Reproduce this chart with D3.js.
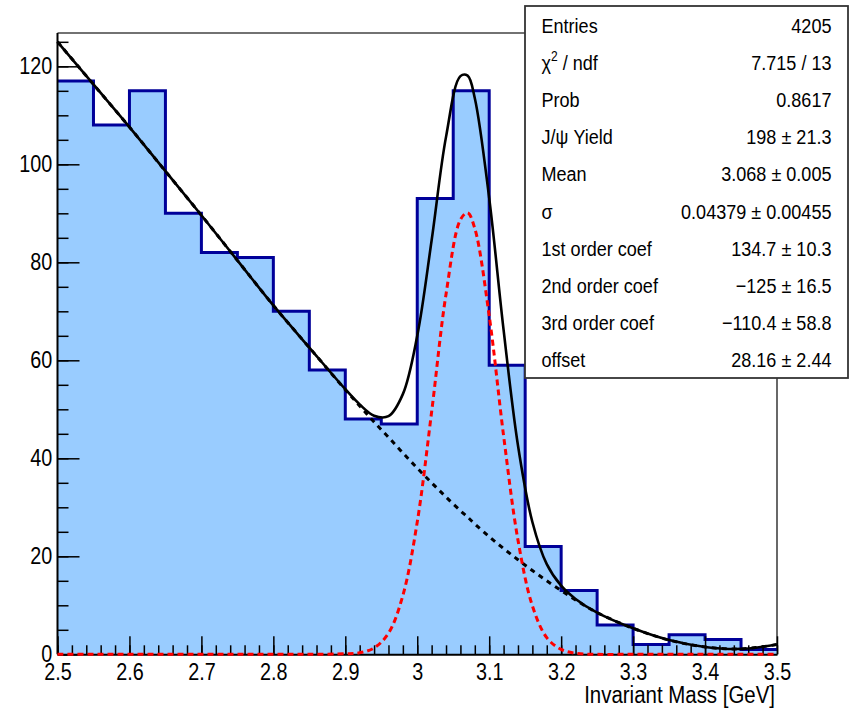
<!DOCTYPE html>
<html>
<head>
<meta charset="utf-8">
<script src="https://cdn.jsdelivr.net/npm/d3@7"></script>
<style>
  body { margin: 0; background: #fff; }
  svg { display: block; }
  text { font-family: "Liberation Sans", Arial, Helvetica, sans-serif; fill: #000; }
</style>
</head>
<body>
<div id="chart"></div>
<script>
// histogram bins (lower edges, width 0.05 GeV) and counts
const binLow = [2.50, 2.55, 2.60, 2.65, 2.70, 2.75, 2.80, 2.85, 2.90, 2.95,
                3.00, 3.05, 3.10, 3.15, 3.20, 3.25, 3.30, 3.35, 3.40, 3.45];
const counts = [117, 108, 115, 90, 82, 81, 70, 58, 48, 47,
                93, 115, 59, 22, 13, 6, 2, 4, 3, 1];
const binWidth = 0.05;

// fit curves: background (black dashed) and J/psi signal (red dashed)
const fitX   = [2.50, 2.55, 2.60, 2.65, 2.70, 2.75, 2.80, 2.85, 2.90, 2.92, 2.94, 2.96, 2.98,
                3.00, 3.02, 3.04, 3.06, 3.07, 3.08, 3.10, 3.12, 3.14, 3.16, 3.18, 3.20, 3.22,
                3.25, 3.30, 3.35, 3.40, 3.45, 3.50];
const bgFit  = [125.0, 116.3, 107.6, 98.6, 89.6, 80.4, 71.2, 62.6, 54.0, 50.7, 47.4, 44.3, 41.1,
                38.0, 35.0, 32.1, 29.3, 28.0, 26.6, 24.0, 21.6, 19.3, 17.1, 15.0, 13.0, 11.1,
                8.5, 5.3, 2.9, 1.5, 1.1, 2.0];
const sigFit = [0, 0, 0, 0, 0, 0, 0, 0, 0.1, 0.3, 1.3, 4.3, 12.0,
                27.0, 49.5, 73.5, 88.7, 90.1, 86.9, 69.1, 44.6, 23.3, 9.9, 3.4, 1.0, 0.2,
                0, 0, 0, 0, 0, 0];

// axis ticks
const xMajor = [2.5, 2.6, 2.7, 2.8, 2.9, 3.0, 3.1, 3.2, 3.3, 3.4, 3.5];
const yMajor = [0, 20, 40, 60, 80, 100, 120];

// stat box
const statLabels = ["Entries", "χ2 / ndf", "Prob", "J/ψ Yield", "Mean", "σ",
                    "1st order coef", "2nd order coef", "3rd order coef", "offset"];
const statValues = ["4205", "7.715 / 13", "0.8617", "198 ± 21.3", "3.068 ± 0.005",
                    "0.04379 ± 0.00455", "134.7 ± 10.3", "−125 ± 16.5", "−110.4 ± 58.8", "28.16 ± 2.44"];

const width = 854, height = 708;
const frame = { left: 57.5, right: 777, top: 33, bottom: 654.3 };
const squeeze = 0.86; // text in the picture is horizontally condensed

const svg = d3.select("#chart").append("svg")
  .attr("width", width).attr("height", height);

const x = d3.scaleLinear().domain([2.5, 3.5]).range([frame.left, frame.right]);
const y = d3.scaleLinear().domain([0, 126.8]).range([frame.bottom, frame.top]);

// frame (top and right)
svg.append("path")
  .attr("d", `M${frame.left},${frame.top}H${frame.right}V${frame.bottom}`)
  .attr("fill", "none").attr("stroke", "#444").attr("stroke-width", 1.6);

// histogram
const histPts = binLow.map((b, i) => ({ x: b, v: counts[i] }));
histPts.push({ x: binLow[binLow.length - 1] + binWidth, v: counts[counts.length - 1] });

svg.append("path")
  .datum(histPts)
  .attr("fill", "#99ccff")
  .attr("d", d3.area().curve(d3.curveStepAfter)
    .x(d => x(d.x)).y0(y(0)).y1(d => y(d.v)));

svg.append("path")
  .datum(histPts)
  .attr("fill", "none")
  .attr("stroke", "#000099")
  .attr("stroke-width", 3)
  .attr("d", d3.line().curve(d3.curveStepAfter).x(d => x(d.x)).y(d => y(d.v)));

// axes
const fmt = d => String(+d.toFixed(2));

const xMinor = d3.range(0, 51).map(i => 2.5 + i * 0.02);
svg.append("g")
  .attr("transform", `translate(0,${frame.bottom})`)
  .call(d3.axisBottom(x).tickValues(xMinor).tickSize(-9).tickFormat(""))
  .call(g => g.select(".domain").remove());

const yMinor = d3.range(0, 26).map(i => i * 5);
svg.append("g")
  .attr("transform", `translate(${frame.left},0)`)
  .call(d3.axisLeft(y).tickValues(yMinor).tickSize(-11).tickFormat(""))
  .call(g => g.select(".domain").remove());

const xAxis = svg.append("g")
  .attr("transform", `translate(0,${frame.bottom})`)
  .call(d3.axisBottom(x).tickValues(xMajor).tickFormat(fmt)
    .tickSize(-18).tickSizeOuter(0).tickPadding(9));
xAxis.selectAll("text")
  .style("font-size", "23px")
  .attr("transform", `scale(${squeeze},1)`);

const yAxis = svg.append("g")
  .attr("transform", `translate(${frame.left},0)`)
  .call(d3.axisLeft(y).tickValues(yMajor).tickFormat(fmt)
    .tickSize(-22).tickSizeOuter(0).tickPadding(6));
yAxis.selectAll("text")
  .style("font-size", "23px")
  .attr("transform", `scale(${squeeze},1)`);

svg.selectAll(".tick line").attr("stroke", "#000").attr("stroke-width", 1.5);
svg.selectAll(".domain").attr("stroke", "#000").attr("stroke-width", 2);
yAxis.select(".domain").attr("d", `M0,${frame.bottom}V${frame.top}`);

// x title
svg.append("text")
  .attr("transform", `translate(${frame.right - 2},703) scale(0.87,1)`)
  .attr("text-anchor", "end")
  .style("font-size", "23.5px")
  .text("Invariant Mass [GeV]");

// fit curves
const curveLine = vals => d3.line().curve(d3.curveCatmullRom)
  .x((d, i) => x(fitX[i])).y(d => y(d))(vals);

svg.append("path")
  .attr("d", curveLine(bgFit))
  .attr("fill", "none").attr("stroke", "#000")
  .attr("stroke-width", 3).attr("stroke-dasharray", "5,5");

svg.append("path")
  .attr("d", curveLine(sigFit))
  .attr("fill", "none").attr("stroke", "#ff0000")
  .attr("stroke-width", 3).attr("stroke-dasharray", "6,4");

const totalFit = bgFit.map((b, i) => b + sigFit[i]);
svg.append("path")
  .attr("d", curveLine(totalFit))
  .attr("fill", "none").attr("stroke", "#000")
  .attr("stroke-width", 2.6).attr("stroke-linejoin", "round");

// stat box
const box = { x: 525, y: 6, w: 323, h: 372 };
const stat = svg.append("g");
stat.append("rect")
  .attr("x", box.x).attr("y", box.y).attr("width", box.w).attr("height", box.h)
  .attr("fill", "#fff").attr("stroke", "#333").attr("stroke-width", 1.8);

const rowY = i => 33 + i * 37.1;

statLabels.forEach((lab, i) => {
  const t = stat.append("text")
    .attr("transform", `translate(${box.x + 16.5},${rowY(i)}) scale(${squeeze},1)`)
    .style("font-size", "21px");
  if (lab.startsWith("χ2")) {
    t.append("tspan").text("χ");
    t.append("tspan").attr("dy", -9).style("font-size", "14px").text("2");
    t.append("tspan").attr("dy", 9).text(" / ndf");
  } else {
    t.text(lab);
  }
  stat.append("text")
    .attr("transform", `translate(${box.x + 306.5},${rowY(i)}) scale(${squeeze},1)`)
    .attr("text-anchor", "end")
    .style("font-size", "21px")
    .text(statValues[i]);
});
</script>
</body>
</html>
